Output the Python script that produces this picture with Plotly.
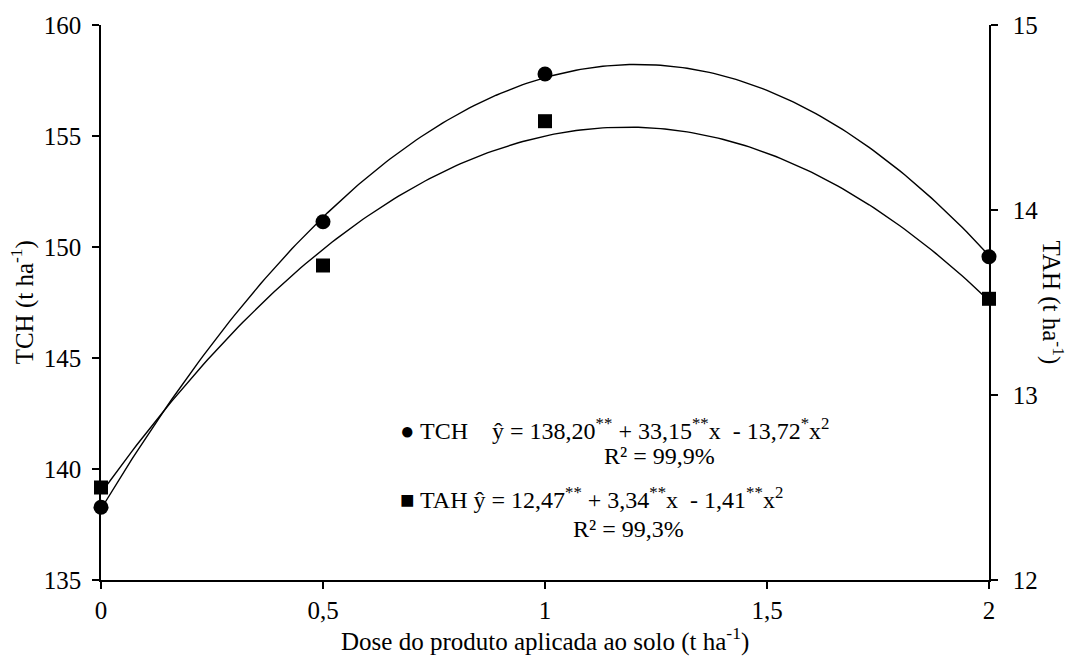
import numpy as np
import plotly.graph_objects as go

# Data
dose = [0, 0.5, 1, 2]
tch = [138.28, 151.14, 157.79, 149.56]
tah = [12.50, 13.70, 14.48, 13.52]

# Regression coefficients printed on the chart (a + b*x + c*x^2)
tch_coef = [138.20, 33.15, -13.72]
tah_coef = [12.47, 3.34, -1.41]

x_tick_vals = [0, 0.5, 1, 1.5, 2]
x_tick_text = ["0", "0,5", "1", "1,5", "2"]
y1_ticks = [135, 140, 145, 150, 155, 160]
y2_ticks = [12, 13, 14, 15]

xc = np.linspace(0, 2, 201)
tch_fit = tch_coef[0] + tch_coef[1] * xc + tch_coef[2] * xc ** 2
tah_fit = tah_coef[0] + tah_coef[1] * xc + tah_coef[2] * xc ** 2

FONT = "Liberation Serif"
FS = 25

fig = go.Figure()
fig.add_trace(go.Scatter(x=xc, y=tch_fit, mode="lines",
                         line=dict(color="black", width=1.4),
                         yaxis="y", showlegend=False, hoverinfo="skip"))
fig.add_trace(go.Scatter(x=xc, y=tah_fit, mode="lines",
                         line=dict(color="black", width=1.4),
                         yaxis="y2", showlegend=False, hoverinfo="skip"))
fig.add_trace(go.Scatter(x=dose, y=tch, mode="markers",
                         marker=dict(symbol="circle", size=15, color="black"),
                         yaxis="y", showlegend=False, cliponaxis=False))
fig.add_trace(go.Scatter(x=dose, y=tah, mode="markers",
                         marker=dict(symbol="square", size=14, color="black"),
                         yaxis="y2", showlegend=False, cliponaxis=False))

axis_common = dict(showgrid=False, zeroline=False, showline=True,
                   linecolor="black", linewidth=1.5, ticks="outside",
                   ticklen=7, tickwidth=1.5, tickcolor="black",
                   tickfont=dict(family=FONT, size=FS, color="black"))

fig.update_layout(
    width=1069, height=659,
    margin=dict(l=101, r=80, t=25, b=79),
    paper_bgcolor="white", plot_bgcolor="white",
    font=dict(family=FONT, size=FS, color="black"),
    xaxis=dict(range=[0, 2], tickvals=x_tick_vals, ticktext=x_tick_text, **axis_common),
    yaxis=dict(range=[135, 160], tickvals=y1_ticks, ticklabelstandoff=6, **axis_common),
    yaxis2=dict(range=[12, 15], tickvals=y2_ticks, overlaying="y", side="right",
                ticklabelstandoff=10, **axis_common),
)

AF = 24
annotations = [
    dict(text="Dose do produto aplicada ao solo (t ha<sup>-1</sup>)",
         x=0.5, y=-0.108, xref="paper", yref="paper", xanchor="center", yanchor="middle",
         showarrow=False, font=dict(family=FONT, size=FS)),
    dict(text="TCH (t ha<sup>-1</sup>)", x=-0.088, y=0.5, xref="paper", yref="paper",
         xanchor="center", yanchor="middle",
         textangle=-90, showarrow=False, font=dict(family=FONT, size=FS)),
    dict(text="TAH (t ha<sup>-1</sup>)", x=1.072, y=0.5, xref="paper", yref="paper",
         xanchor="center", yanchor="middle",
         textangle=90, showarrow=False, font=dict(family=FONT, size=FS)),
    dict(text="● TCH    ŷ = 138,20<sup>**</sup> + 33,15<sup>**</sup>x  - 13,72<sup>*</sup>x<sup>2</sup>",
         x=0.334, y=141.8, xref="paper", yref="y", xanchor="left", yanchor="middle",
         showarrow=False, font=dict(family=FONT, size=AF)),
    dict(text="R² = 99,9%", x=1.257, y=140.6, xref="x", yref="y", showarrow=False,
         xanchor="center", yanchor="middle", font=dict(family=FONT, size=AF)),
    dict(text="■ TAH ŷ = 12,47<sup>**</sup> + 3,34<sup>**</sup>x  - 1,41<sup>**</sup>x<sup>2</sup>",
         x=0.334, y=138.7, xref="paper", yref="y", xanchor="left", yanchor="middle",
         showarrow=False, font=dict(family=FONT, size=AF)),
    dict(text="R² = 99,3%", x=1.189, y=137.3, xref="x", yref="y", showarrow=False,
         xanchor="center", yanchor="middle", font=dict(family=FONT, size=AF)),
]
fig.update_layout(annotations=annotations)

fig.write_html("out.html")
